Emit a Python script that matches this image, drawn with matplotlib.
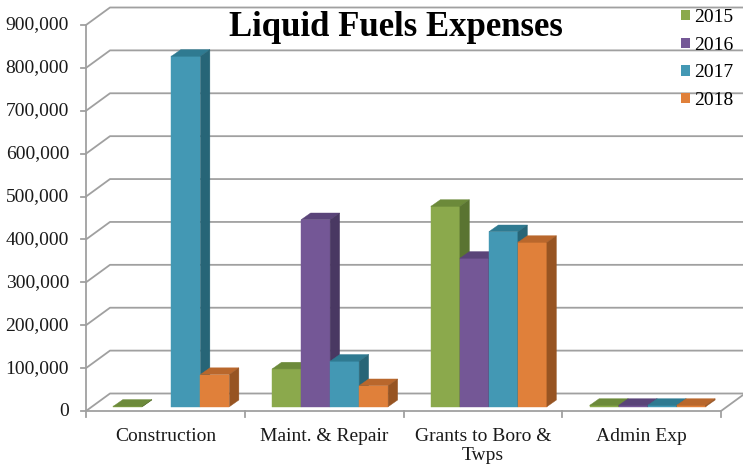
import matplotlib
matplotlib.use("Agg")
import matplotlib.pyplot as plt
from matplotlib.patches import Polygon, Patch
import numpy as np

plt.rcParams['font.family'] = ['Liberation Serif', 'DejaVu Serif']

# ---------------- data ----------------
categories = ["Construction", "Maint. & Repair", "Grants to Boro &\nTwps", "Admin Exp"]
years = ["2015", "2016", "2017", "2018"]
v2015 = [1000, 88000, 467000, 3000]
v2016 = [np.nan, 436000, 346000, 3000]
v2017 = [817000, 106000, 408000, 3000]
v2018 = [75000, 49000, 383000, 3000]
series = [v2015, v2016, v2017, v2018]
y_ticks = list(range(0, 900001, 100000))
y_tick_labels = [f"{t:,}" for t in y_ticks]
title = "Liquid Fuels Expenses"

# colours: front, top, side
front_cols = ["#8ba94c", "#745796", "#4398b4", "#e0803a"]
top_cols = ["#6c8a3a", "#5a4479", "#2f7a91", "#b9672c"]
side_cols = ["#5a7431", "#493862", "#276577", "#975422"]
grid_col = "#a0a0a0"

# ---------------- layout ----------------
W, H = 743, 467
fig = plt.figure(figsize=(W / 100, H / 100), dpi=100)
ax_l, ax_r, ax_b, ax_t = 86, 721, 411, 25
ax = fig.add_axes([ax_l / W, 1 - ax_b / H, (ax_r - ax_l) / W, (ax_b - ax_t) / H])
ax.set_xlim(-0.5, 3.5)
ax.set_ylim(0, 900000)
ax.axis('off')

px_x = 4.0 / (ax_r - ax_l)
px_y = 900000.0 / (ax_b - ax_t)

wall_dx, wall_dy = 24 * px_x, 17.5 * px_y
lw = 1.3

# back wall gridlines
for t in y_ticks:
    ax.plot([-0.5, -0.5 + wall_dx, 3.5 + wall_dx + 0.2], [t, t + wall_dy, t + wall_dy],
            color=grid_col, lw=lw, clip_on=False, zorder=1, solid_capstyle='butt')
# floor front edge and right edge
ax.plot([-0.5, 3.5, 3.5 + wall_dx], [0, 0, wall_dy], color=grid_col, lw=lw,
        clip_on=False, zorder=1)
# value axis
ax.plot([-0.5, -0.5], [0, 900000], color=grid_col, lw=lw, clip_on=False, zorder=1)
for t, lab in zip(y_ticks, y_tick_labels):
    ax.plot([-0.5 - 5 * px_x, -0.5], [t, t], color=grid_col, lw=lw, clip_on=False, zorder=1)
    ax.text(-0.5 - 17 * px_x, t, lab, ha='right', va='center', fontsize=14,
            color='#1a1a1a')
# category ticks and labels
for b in np.arange(-0.5, 3.6, 1.0):
    ax.plot([b, b], [0, -6 * px_y], color=grid_col, lw=lw, clip_on=False, zorder=1)
for i, cat in enumerate(categories):
    ax.text(i, -17 * px_y, cat, ha='center', va='top', fontsize=14,
            color='#1a1a1a', linespacing=1.15)

# bars (front faces via ax.bar, 3D top/side faces as polygons)
bw = 29 * px_x
bar_ox, bar_oy = 6 * px_x, 4.3 * px_y
dep_x, dep_y = 9.5 * px_x, 6.7 * px_y
x_idx = np.arange(len(categories))
for j, vals in enumerate(series):
    vals = np.array(vals, dtype=float)
    xs = x_idx + (j - 1.5) * bw + bar_ox
    mask = ~np.isnan(vals)
    z = 3 + j
    ax.bar(xs[mask], vals[mask], width=bw, bottom=bar_oy, color=front_cols[j],
           edgecolor=front_cols[j], linewidth=0.3, zorder=z, clip_on=False)
    for x, v in zip(xs[mask], vals[mask]):
        xl, xr = x - bw / 2, x + bw / 2
        top = bar_oy + v
        ax.add_patch(Polygon([(xl, top), (xr, top), (xr + dep_x, top + dep_y),
                              (xl + dep_x, top + dep_y)], closed=True,
                             facecolor=top_cols[j], edgecolor=top_cols[j], lw=0.3,
                             zorder=z, clip_on=False))
        ax.add_patch(Polygon([(xr, bar_oy), (xr, top), (xr + dep_x, top + dep_y),
                              (xr + dep_x, bar_oy + dep_y)], closed=True,
                             facecolor=side_cols[j], edgecolor=side_cols[j], lw=0.3,
                             zorder=z, clip_on=False))

# title
fig.text(396 / W, 1 - 28 / H, title, ha='center', va='center', fontsize=25,
         fontweight='bold', color='black', zorder=20)

# legend
handles = [Patch(facecolor=c, edgecolor='none') for c in front_cols]
fig.legend(handles, years, loc='upper left', bbox_to_anchor=(681 / W, 1 - 9 / H),
           frameon=False, fontsize=14, handlelength=0.45, handleheight=0.45,
           handletextpad=0.25, labelspacing=0.55, borderpad=0, borderaxespad=0)

fig.savefig("out.png", dpi=100)
